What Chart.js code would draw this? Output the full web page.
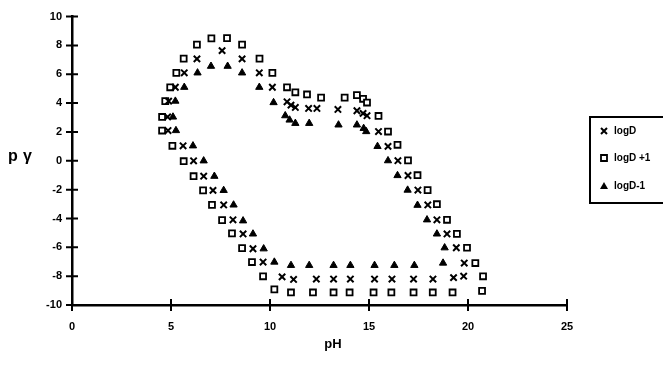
<!DOCTYPE html>
<html>
<head>
<meta charset="utf-8">
<script src="https://cdn.jsdelivr.net/npm/chart.js@4/dist/chart.umd.min.js"></script>
<style>
  body { margin: 0; background: #fff; }
  canvas { display: block; }
</style>
</head>
<body>
<canvas id="phChart" width="663" height="376"></canvas>
<script>
// pH / p-gamma points for each series
var logdPH  = [7.58, 6.31, 8.59, 5.67, 9.46, 5.22, 10.12, 4.88, 10.86, 4.83, 4.85, 5.61, 6.14, 6.65, 7.12, 7.66, 8.13, 8.64, 9.14, 9.65, 10.61, 11.19, 12.34, 13.21, 14.06, 15.28, 16.16, 17.25, 18.23, 19.27, 19.78, 19.81, 19.41, 18.94, 18.43, 17.97, 17.47, 16.97, 16.46, 15.96, 15.48, 14.90, 14.70, 14.39, 13.43, 12.37, 11.95, 11.28, 11.06];
var logdVal = [7.64, 7.07, 7.07, 6.10, 6.10, 5.10, 5.10, 4.14, 4.09, 3.04, 2.10, 1.04, 0.00, -1.07, -2.05, -3.06, -4.09, -5.07, -6.10, -7.02, -8.05, -8.23, -8.20, -8.20, -8.20, -8.20, -8.20, -8.20, -8.20, -8.10, -8.00, -7.09, -6.03, -5.07, -4.09, -3.06, -2.03, -1.02, 0.01, 1.00, 2.03, 3.13, 3.29, 3.47, 3.56, 3.63, 3.63, 3.70, 3.86];

var plusPH  = [4.55, 4.55, 4.71, 4.96, 5.27, 5.64, 6.31, 7.04, 7.83, 8.59, 9.47, 10.12, 10.86, 11.28, 11.87, 12.58, 13.77, 14.39, 14.70, 14.90, 15.48, 15.96, 16.44, 16.97, 17.45, 17.96, 18.43, 18.94, 19.44, 19.95, 20.37, 20.76, 20.71, 19.22, 18.22, 17.25, 16.13, 15.23, 14.02, 13.21, 12.17, 11.06, 10.22, 9.65, 9.09, 8.59, 8.08, 7.58, 7.07, 6.62, 6.14, 5.64, 5.07];
var plusVal = [2.10, 3.04, 4.14, 5.10, 6.10, 7.09, 8.06, 8.49, 8.51, 8.06, 7.09, 6.10, 5.10, 4.75, 4.60, 4.38, 4.38, 4.55, 4.30, 4.04, 3.11, 2.03, 1.11, 0.03, -1.00, -2.03, -3.01, -4.09, -5.07, -6.03, -7.09, -8.01, -9.02, -9.13, -9.13, -9.13, -9.13, -9.13, -9.13, -9.13, -9.13, -9.13, -8.92, -8.01, -7.02, -6.06, -5.03, -4.11, -3.06, -2.05, -1.07, -0.03, 1.04];

var minusPH  = [7.02, 7.86, 6.34, 8.59, 5.67, 9.46, 5.22, 10.18, 5.10, 10.77, 5.25, 10.99, 11.28, 11.98, 13.46, 14.39, 14.73, 14.86, 6.11, 15.43, 6.65, 15.96, 7.19, 16.44, 7.66, 16.95, 8.16, 17.45, 8.64, 17.93, 9.14, 18.43, 9.68, 18.82, 10.22, 18.74, 11.06, 11.98, 13.21, 14.06, 15.28, 16.28, 17.29];
var minusVal = [6.56, 6.56, 6.10, 6.10, 5.10, 5.10, 4.14, 4.04, 3.04, 3.13, 2.10, 2.83, 2.60, 2.60, 2.49, 2.49, 2.25, 2.03, 1.04, 1.00, 0.00, 0.01, -1.07, -1.02, -2.05, -2.03, -3.06, -3.08, -4.16, -4.09, -5.07, -5.07, -6.10, -6.03, -7.02, -7.09, -7.25, -7.25, -7.25, -7.25, -7.25, -7.25, -7.25];

var seriesNames = ['logD', 'logD +1', 'logD-1'];
var xTicks = [0, 5, 10, 15, 20, 25];
var yTicks = [10, 8, 6, 4, 2, 0, -2, -4, -6, -8, -10];

function toPoints(xs, ys) {
  return xs.map(function (v, i) { return { x: v, y: ys[i] }; });
}

// crossing tick marks, axis titles and the boxed key
var extras = {
  id: 'extras',
  afterDraw: function (chart) {
    var ctx = chart.ctx, x = chart.scales.x, y = chart.scales.y;
    ctx.save();
    ctx.strokeStyle = '#000';
    ctx.lineWidth = 2;
    ctx.beginPath();
    xTicks.forEach(function (v) {
      var px = x.getPixelForValue(v);
      ctx.moveTo(px, y.bottom - 6); ctx.lineTo(px, y.bottom + 6);
    });
    yTicks.forEach(function (v) {
      var py = y.getPixelForValue(v);
      ctx.moveTo(x.left - 6, py); ctx.lineTo(x.left + 6, py);
    });
    ctx.stroke();

    ctx.fillStyle = '#000';
    ctx.textBaseline = 'middle';
    ctx.font = 'bold 16px "Liberation Sans", Arial, sans-serif';
    ctx.textAlign = 'left';
    ctx.fillText('p', 8, 157);
    ctx.fillText('γ', 23, 157);
    ctx.font = 'bold 13px "Liberation Sans", Arial, sans-serif';
    ctx.textAlign = 'center';
    ctx.fillText('pH', 333, 344);

    // key
    ctx.lineWidth = 2;
    ctx.strokeRect(590, 117, 90, 86);
    ctx.font = 'bold 10px "Liberation Sans", Arial, sans-serif';
    ctx.textAlign = 'left';
    var rows = [131, 158, 186];
    chart.data.datasets.forEach(function (ds, i) {
      var cy = rows[i], cx = 604;
      ctx.beginPath();
      if (i === 0) {
        ctx.lineWidth = 2;
        ctx.moveTo(cx - 3, cy - 3); ctx.lineTo(cx + 3, cy + 3);
        ctx.moveTo(cx + 3, cy - 3); ctx.lineTo(cx - 3, cy + 3);
        ctx.stroke();
      } else if (i === 1) {
        ctx.lineWidth = 1.8;
        ctx.fillStyle = '#fff';
        ctx.rect(cx - 3, cy - 3, 6, 6);
        ctx.fill(); ctx.stroke();
      } else {
        ctx.fillStyle = '#000';
        ctx.moveTo(cx, cy - 4); ctx.lineTo(cx + 4, cy + 3); ctx.lineTo(cx - 4, cy + 3);
        ctx.closePath(); ctx.fill();
      }
      ctx.fillStyle = '#000';
      ctx.fillText(ds.label, 614, cy);
    });
    ctx.restore();
  }
};

var tickFont = { family: '"Liberation Sans", Arial, sans-serif', size: 11, weight: 'bold' };

new Chart(document.getElementById('phChart').getContext('2d'), {
  type: 'scatter',
  data: {
    datasets: [{
      label: seriesNames[0],
      data: toPoints(logdPH, logdVal),
      pointStyle: 'crossRot',
      pointRadius: 4.5,
      borderColor: '#000',
      borderWidth: 2
    }, {
      label: seriesNames[1],
      data: toPoints(plusPH, plusVal),
      pointStyle: 'rect',
      pointRadius: 4.2,
      backgroundColor: '#fff',
      borderColor: '#000',
      borderWidth: 1.8
    }, {
      label: seriesNames[2],
      data: toPoints(minusPH, minusVal),
      pointStyle: 'triangle',
      pointRadius: 4.2,
      backgroundColor: '#000',
      borderColor: '#000',
      borderWidth: 1
    }]
  },
  options: {
    responsive: false,
    animation: false,
    layout: { padding: { top: 14, right: 96, left: 0, bottom: 0 } },
    plugins: { legend: { display: false }, tooltip: { enabled: false } },
    scales: {
      x: {
        type: 'linear', min: 0, max: 25,
        afterFit: function (s) { s.height = 71; },
        grid: { display: false, drawTicks: false },
        border: { display: true, color: '#000', width: 2.5 },
        ticks: { stepSize: 5, padding: 15, color: '#000', font: tickFont, maxRotation: 0 }
      },
      y: {
        type: 'linear', min: -10, max: 10,
        afterFit: function (s) { s.width = 72; },
        grid: { display: false, drawTicks: false },
        border: { display: true, color: '#000', width: 2.5 },
        ticks: { stepSize: 2, padding: 10, color: '#000', font: tickFont }
      }
    }
  },
  plugins: [extras]
});
</script>
</body>
</html>
